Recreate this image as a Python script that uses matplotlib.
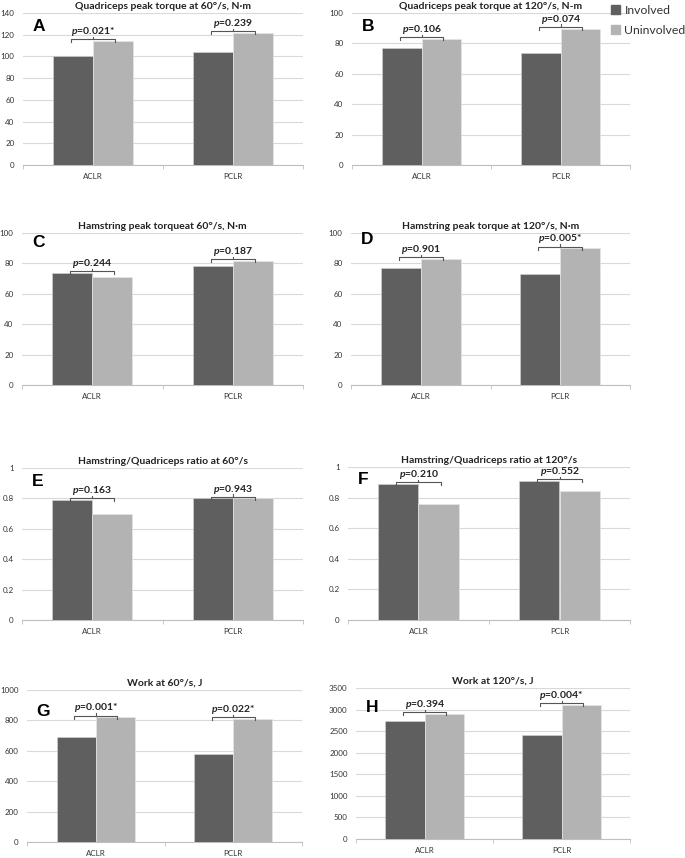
import matplotlib
matplotlib.use('Agg')
import matplotlib.pyplot as plt
from matplotlib.patches import Patch

plt.rcParams['font.family'] = ['Lato', 'DejaVu Sans']
plt.rcParams['mathtext.fontset'] = 'custom'
plt.rcParams['mathtext.rm'] = 'Lato'
plt.rcParams['mathtext.bfit'] = 'Lato:italic:bold'

# data
groups = ['ACLR', 'PCLR']
series = ['Involved', 'Uninvolved']
letters = ['A', 'B', 'C', 'D', 'E', 'F', 'G', 'H']
titles = ['Quadriceps peak torque at 60°/s, N·m',
          'Quadriceps peak torque at 120°/s, N-m',
          'Hamstring peak torqueat 60°/s, N·m',
          'Hamstring peak torque at 120°/s, N·m',
          'Hamstring/Quadriceps ratio at 60°/s',
          'Hamstring/Quadriceps ratio at 120°/s',
          'Work at 60°/s, J',
          'Work at 120°/s, J']
involved = [[100, 104.4], [77, 73.5], [73.7, 78.1], [77, 73.3],
            [0.79, 0.80], [0.89, 0.91], [693, 577], [2730, 2420]]
uninvolved = [[114, 121.6], [83, 89.8], [71.1, 81.8], [82.9, 89.9],
              [0.70, 0.80], [0.76, 0.84], [820, 811], [2900, 3110]]
pvals = [['0.021*', '0.239'], ['0.106', '0.074'], ['0.244', '0.187'],
         ['0.901', '0.005*'], ['0.163', '0.943'], ['0.210', '0.552'],
         ['0.001*', '0.022*'], ['0.394', '0.004*']]
ymax = [140, 100, 100, 100, 1, 1, 1000, 3500]
ystep = [20, 20, 20, 20, 0.2, 0.2, 200, 500]

# panel boxes in pixels: left, top, right, bottom ; letter y in axes fraction
W, H = 685, 858
boxes = [(23, 13, 303, 165), (352, 13, 630, 165),
         (22, 233, 303, 385), (351, 233, 630, 385),
         (22, 468, 303, 620), (348, 467, 630, 620),
         (27, 690, 302, 842), (356, 688, 630, 839)]
letter_y = [0.91, 0.91, 0.94, 0.96, 0.91, 0.92, 0.86, 0.87]

dark = '#5f5f5f'
light = '#b3b3b3'
grid = '#d9d9d9'

fig = plt.figure(figsize=(W / 100, H / 100), dpi=100)

w = 0.285
for k in range(8):
    l, t, r, b = boxes[k]
    ax = fig.add_axes([l / W, 1 - b / H, (r - l) / W, (b - t) / H])
    ym = ymax[k]
    xs = [0, 1]
    ax.bar([x - w / 2 for x in xs], involved[k], w, color=dark,
           edgecolor='#cfcfcf', linewidth=0.5, zorder=3, label=series[0])
    ax.bar([x + w / 2 for x in xs], uninvolved[k], w, color=light,
           edgecolor='#e6e6e6', linewidth=0.5, zorder=3, label=series[1])
    ax.set_xlim(-0.5, 1.5)
    ax.set_ylim(0, ym)
    ticks = [i * ystep[k] for i in range(round(ym / ystep[k]) + 1)]
    ax.set_yticks(ticks)
    ax.set_yticklabels([f'{v:g}' for v in ticks])
    ax.set_xticks(xs)
    ax.set_xticklabels(groups)
    ax.set_xticks([-0.5, 0.5, 1.5], minor=True)
    ax.tick_params(axis='y', length=0, pad=6, labelsize=5.8, labelcolor='#333333')
    ax.tick_params(axis='x', which='major', length=0, pad=6, labelsize=5.8,
                   labelcolor='#333333')
    ax.tick_params(axis='x', which='minor', length=3, color='#bfbfbf', width=0.6)
    ax.grid(axis='y', color=grid, linewidth=0.8, zorder=0)
    for s in ['top', 'right', 'left']:
        ax.spines[s].set_visible(False)
    ax.spines['bottom'].set_color('#bfbfbf')
    ax.spines['bottom'].set_linewidth(0.8)
    ax.set_title(titles[k], fontsize=7.5, fontweight='bold', pad=3, color='#222222')
    ax.text(0.035, letter_y[k], letters[k], transform=ax.transAxes,
            family='Liberation Sans', fontsize=12.5, fontweight='bold',
            ha='left', va='center')

    # significance brackets
    for i in xs:
        top = max(involved[k][i], uninvolved[k][i]) + 0.012 * ym
        x0, x1 = i - 0.55 * w, i + 0.55 * w
        d = 0.02 * ym
        ax.plot([x0, x0, x1, x1], [top - d, top, top, top - d],
                color='#555555', lw=0.8, zorder=4, clip_on=False)
        ax.plot([i, i], [top, top + 0.015 * ym], color='#555555', lw=0.8,
                zorder=4, clip_on=False)
        ax.annotate(r'$\mathbfit{p}$=' + pvals[k][i], xy=(i, top + 0.015 * ym),
                    xytext=(0, 2), textcoords='offset points',
                    ha='center', va='baseline', fontsize=7.5, fontweight='bold',
                    color='#222222', annotation_clip=False)

handles = [Patch(color=dark), Patch(color=light)]
fig.legend(handles, series, loc='upper left', bbox_to_anchor=(611 / W, 1 - 5 / H),
           frameon=False, fontsize=8.8, handlelength=0.75, handleheight=0.75,
           handletextpad=0.35, labelspacing=0.7, borderpad=0, borderaxespad=0,
           labelcolor='#333333')

fig.savefig('out.png', dpi=100)
